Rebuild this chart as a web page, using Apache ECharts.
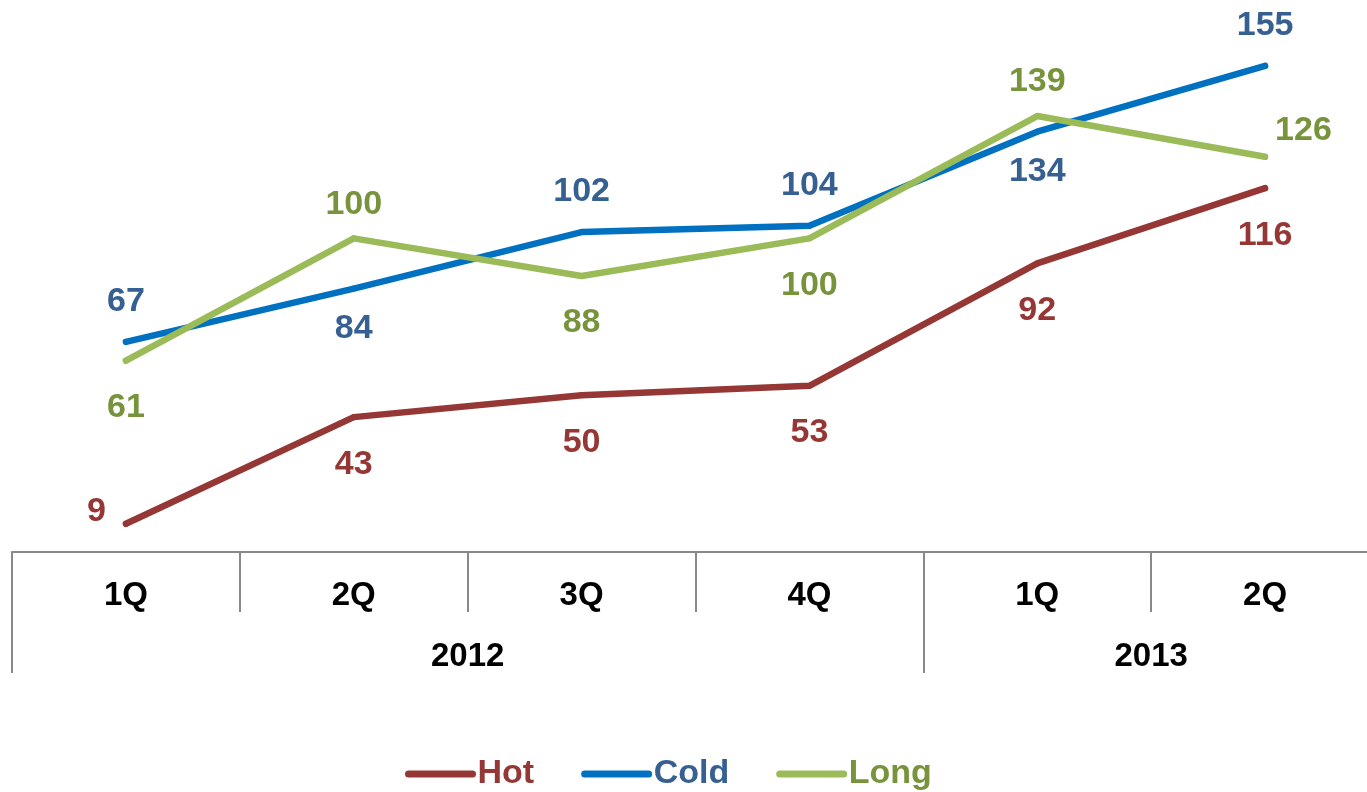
<!DOCTYPE html>
<html>
<head>
<meta charset="utf-8">
<script src="https://cdn.jsdelivr.net/npm/echarts@6/dist/echarts.min.js"></script>
<style>
html,body{margin:0;padding:0;background:#fff;}
#chart{width:1367px;height:792px;}
</style>
</head>
<body>
<div id="chart"></div>
<script>
// ---- data ----
const quarters = ['1Q', '2Q', '3Q', '4Q', '1Q', '2Q'];
const years = ['2012', '2013'];
const yearSpans = [4, 2];
const seriesNames = ['Hot', 'Cold', 'Long'];
const hot = [9, 43, 50, 53, 92, 116];
const cold = [67, 84, 102, 104, 134, 155];
const long = [61, 100, 88, 100, 139, 126];

// ---- style ----
const FONT = 'Liberation Sans, Arial, sans-serif';
const lineColors = { Hot: '#953735', Cold: '#0070C0', Long: '#9BBB59' };
const textColors = { Hot: '#953735', Cold: '#376092', Long: '#77933C' };
const placement = {
  Hot: ['left', 'bottom', 'bottom', 'bottom', 'bottom', 'bottom'],
  Cold: ['top', 'bottom', 'top', 'top', 'bottom', 'top'],
  Long: ['bottom', 'top', 'bottom', 'bottom', 'top', 'right']
};
const distances = {
  Hot: { top: 20, bottom: 27 },
  Cold: { top: 20, bottom: 20 },
  Long: { top: 14, bottom: 27 }
};
const values = { Hot: hot, Cold: cold, Long: long };

function labelFor(name, pos) {
  const base = { show: true, position: pos, fontSize: 34, fontWeight: 'bold', fontFamily: FONT, color: textColors[name] };
  if (pos === 'top') base.distance = distances[name].top;
  else if (pos === 'bottom') base.distance = distances[name].bottom;
  else if (pos === 'left') { base.distance = 17; base.offset = [0, -12]; }
  else if (pos === 'right') { base.distance = 7; base.offset = [0, -26]; }
  return base;
}

// year boundaries and centers from spans
const yearBounds = [0];
yearSpans.forEach(s => yearBounds.push(yearBounds[yearBounds.length - 1] + s));
const yearCenters = yearSpans.map((s, i) => yearBounds[i] + s / 2);

const series = seriesNames.map(name => ({
  name: name,
  type: 'line',
  data: values[name].map((v, i) => ({
    value: v,
    label: labelFor(name, placement[name][i])
  })),
  symbol: 'circle',
  symbolSize: 6,
  itemStyle: { color: lineColors[name] },
  lineStyle: { width: 6.5, color: lineColors[name], cap: 'round', join: 'round' },
  emphasis: { disabled: true },
  z: 2
}));

const chart = echarts.init(document.getElementById('chart'));
chart.setOption({
  animation: false,
  grid: { left: 12, top: 0, width: 1367, bottom: 240, containLabel: false, outerBoundsMode: 'none' },
  legend: {
    left: 400,
    top: 752,
    itemWidth: 64,
    itemHeight: 6,
    itemGap: 47,
    lineStyle: { width: 7, cap: 'round' },
    selectedMode: false,
    textStyle: { fontSize: 34, fontWeight: 'bold', fontFamily: FONT },
    data: seriesNames.map(n => ({ name: n, textStyle: { color: textColors[n] } }))
  },
  xAxis: [
    {
      type: 'category',
      data: quarters,
      boundaryGap: true,
      axisLine: { show: true, lineStyle: { color: '#898989', width: 2 } },
      axisTick: { show: true, interval: 0, length: 60, lineStyle: { color: '#898989', width: 2 } },
      axisLabel: { interval: 0, margin: 27, fontSize: 33, fontWeight: 'bold', fontFamily: FONT, color: '#000' },
      splitLine: { show: false }
    },
    {
      type: 'value',
      min: 0,
      max: quarters.length,
      position: 'bottom',
      axisLine: { show: false },
      axisTick: { show: true, customValues: yearBounds, length: 121, lineStyle: { color: '#898989', width: 2 } },
      axisLabel: {
        customValues: yearCenters,
        margin: 88,
        fontSize: 33, fontWeight: 'bold', fontFamily: FONT, color: '#000',
        formatter: function (v) {
          const idx = yearCenters.indexOf(v);
          return idx >= 0 ? years[idx] : '';
        }
      },
      splitLine: { show: false }
    }
  ],
  yAxis: {
    type: 'value', min: 0, max: 176, show: false, splitLine: { show: false }
  },
  series: series
});
</script>
</body>
</html>
